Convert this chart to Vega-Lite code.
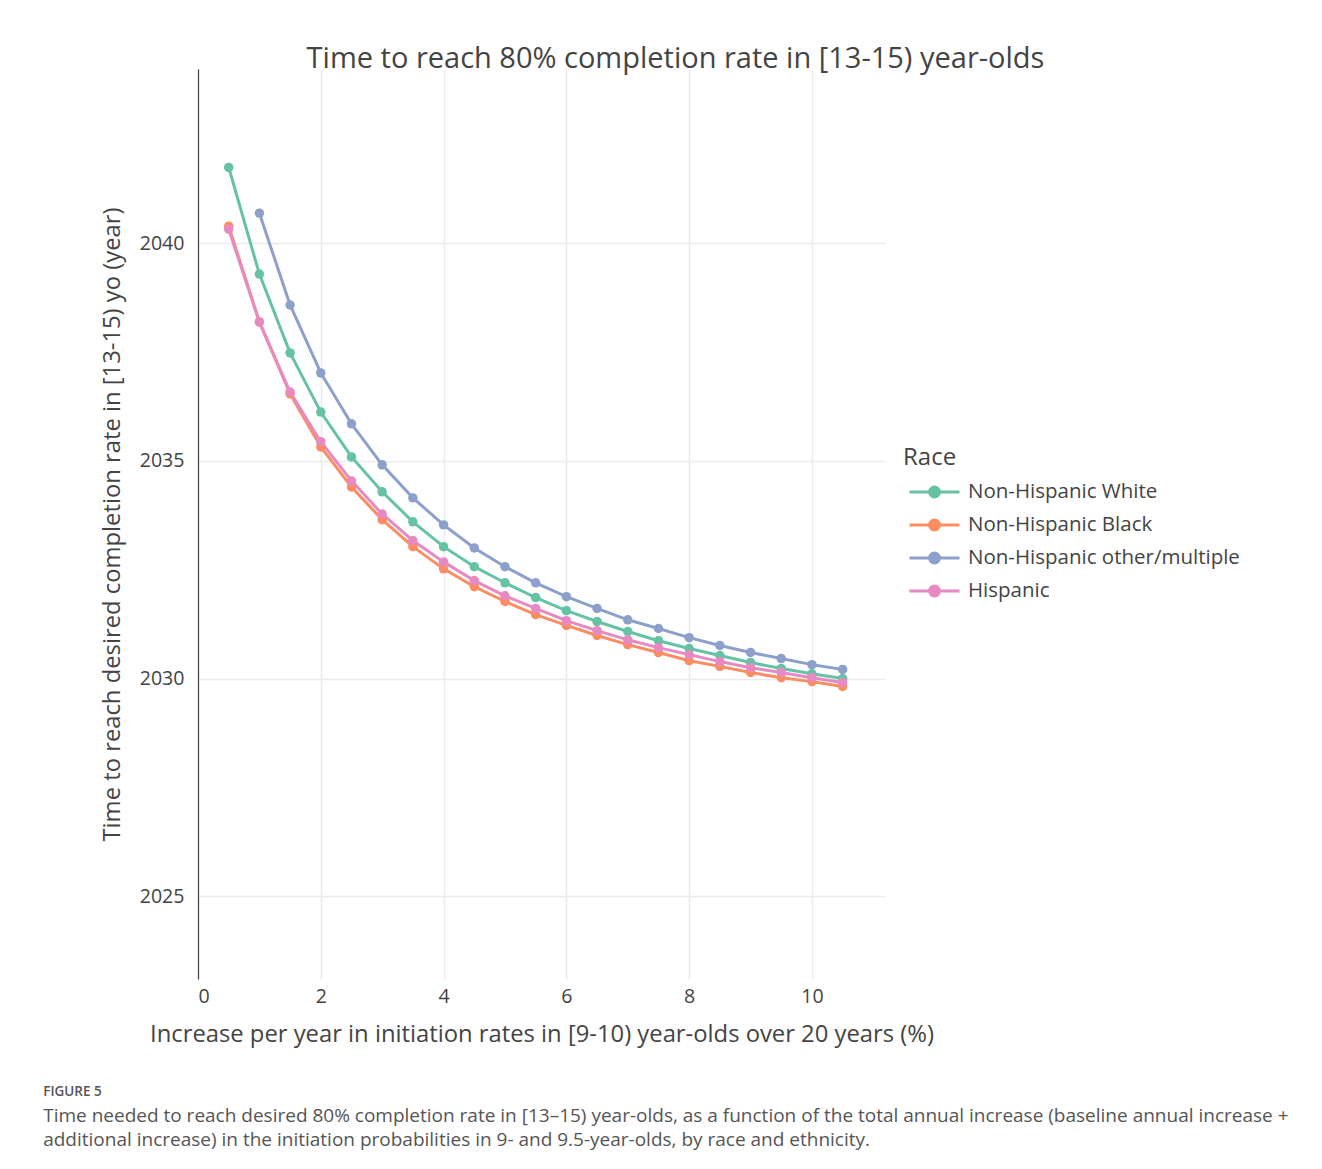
{
  "$schema": "https://vega.github.io/schema/vega-lite/v6.json",
  "background": "white",
  "padding": {"left": 43, "top": 45, "right": 10, "bottom": 10},
  "config": {
    "font": "Open Sans",
    "view": {"stroke": null},
    "axis": {"labelColor": "#444", "titleColor": "#444", "labelFont": "Open Sans", "titleFont": "Open Sans", "titleFontWeight": "normal"},
    "legend": {"labelFont": "Open Sans", "titleFont": "Open Sans"}
  },
  "title": {
    "text": "FIGURE 5",
    "subtitle": ["Time needed to reach desired 80% completion rate in [13–15) year-olds, as a function of the total annual increase (baseline annual increase +", "additional increase) in the initiation probabilities in 9- and 9.5-year-olds, by race and ethnicity."],
    "orient": "bottom",
    "anchor": "start",
    "frame": "bounds",
    "dx": -57,
    "fontSize": 13.5,
    "fontWeight": 600,
    "color": "#555",
    "subtitleFontSize": 19,
    "subtitleColor": "#555",
    "subtitleLineHeight": 24,
    "subtitlePadding": 8,
    "offset": 39,
    "font": "Open Sans",
    "subtitleFont": "Open Sans"
  },
  "datasets": {
    "pts": [
      {"x": 0.5, "race": "Non-Hispanic White", "y": 2041.74},
      {"x": 1.0, "race": "Non-Hispanic White", "y": 2039.29},
      {"x": 1.5, "race": "Non-Hispanic White", "y": 2037.48},
      {"x": 2.0, "race": "Non-Hispanic White", "y": 2036.12},
      {"x": 2.5, "race": "Non-Hispanic White", "y": 2035.09},
      {"x": 3.0, "race": "Non-Hispanic White", "y": 2034.29},
      {"x": 3.5, "race": "Non-Hispanic White", "y": 2033.60},
      {"x": 4.0, "race": "Non-Hispanic White", "y": 2033.03},
      {"x": 4.5, "race": "Non-Hispanic White", "y": 2032.57},
      {"x": 5.0, "race": "Non-Hispanic White", "y": 2032.20},
      {"x": 5.5, "race": "Non-Hispanic White", "y": 2031.86},
      {"x": 6.0, "race": "Non-Hispanic White", "y": 2031.56},
      {"x": 6.5, "race": "Non-Hispanic White", "y": 2031.31},
      {"x": 7.0, "race": "Non-Hispanic White", "y": 2031.08},
      {"x": 7.5, "race": "Non-Hispanic White", "y": 2030.87},
      {"x": 8.0, "race": "Non-Hispanic White", "y": 2030.69},
      {"x": 8.5, "race": "Non-Hispanic White", "y": 2030.53},
      {"x": 9.0, "race": "Non-Hispanic White", "y": 2030.37},
      {"x": 9.5, "race": "Non-Hispanic White", "y": 2030.23},
      {"x": 10.0, "race": "Non-Hispanic White", "y": 2030.11},
      {"x": 10.5, "race": "Non-Hispanic White", "y": 2030.00},
      {"x": 0.5, "race": "Non-Hispanic Black", "y": 2040.39},
      {"x": 1.0, "race": "Non-Hispanic Black", "y": 2038.19},
      {"x": 1.5, "race": "Non-Hispanic Black", "y": 2036.54},
      {"x": 2.0, "race": "Non-Hispanic Black", "y": 2035.32},
      {"x": 2.5, "race": "Non-Hispanic Black", "y": 2034.40},
      {"x": 3.0, "race": "Non-Hispanic Black", "y": 2033.65},
      {"x": 3.5, "race": "Non-Hispanic Black", "y": 2033.03},
      {"x": 4.0, "race": "Non-Hispanic Black", "y": 2032.52},
      {"x": 4.5, "race": "Non-Hispanic Black", "y": 2032.11},
      {"x": 5.0, "race": "Non-Hispanic Black", "y": 2031.77},
      {"x": 5.5, "race": "Non-Hispanic Black", "y": 2031.47},
      {"x": 6.0, "race": "Non-Hispanic Black", "y": 2031.22},
      {"x": 6.5, "race": "Non-Hispanic Black", "y": 2030.99},
      {"x": 7.0, "race": "Non-Hispanic Black", "y": 2030.78},
      {"x": 7.5, "race": "Non-Hispanic Black", "y": 2030.60},
      {"x": 8.0, "race": "Non-Hispanic Black", "y": 2030.41},
      {"x": 8.5, "race": "Non-Hispanic Black", "y": 2030.28},
      {"x": 9.0, "race": "Non-Hispanic Black", "y": 2030.14},
      {"x": 9.5, "race": "Non-Hispanic Black", "y": 2030.02},
      {"x": 10.0, "race": "Non-Hispanic Black", "y": 2029.93},
      {"x": 10.5, "race": "Non-Hispanic Black", "y": 2029.82},
      {"x": 1.0, "race": "Non-Hispanic other/multiple", "y": 2040.69},
      {"x": 1.5, "race": "Non-Hispanic other/multiple", "y": 2038.58},
      {"x": 2.0, "race": "Non-Hispanic other/multiple", "y": 2037.02},
      {"x": 2.5, "race": "Non-Hispanic other/multiple", "y": 2035.85},
      {"x": 3.0, "race": "Non-Hispanic other/multiple", "y": 2034.91},
      {"x": 3.5, "race": "Non-Hispanic other/multiple", "y": 2034.15},
      {"x": 4.0, "race": "Non-Hispanic other/multiple", "y": 2033.53},
      {"x": 4.5, "race": "Non-Hispanic other/multiple", "y": 2033.00},
      {"x": 5.0, "race": "Non-Hispanic other/multiple", "y": 2032.57},
      {"x": 5.5, "race": "Non-Hispanic other/multiple", "y": 2032.20},
      {"x": 6.0, "race": "Non-Hispanic other/multiple", "y": 2031.88},
      {"x": 6.5, "race": "Non-Hispanic other/multiple", "y": 2031.61},
      {"x": 7.0, "race": "Non-Hispanic other/multiple", "y": 2031.35},
      {"x": 7.5, "race": "Non-Hispanic other/multiple", "y": 2031.15},
      {"x": 8.0, "race": "Non-Hispanic other/multiple", "y": 2030.94},
      {"x": 8.5, "race": "Non-Hispanic other/multiple", "y": 2030.76},
      {"x": 9.0, "race": "Non-Hispanic other/multiple", "y": 2030.60},
      {"x": 9.5, "race": "Non-Hispanic other/multiple", "y": 2030.46},
      {"x": 10.0, "race": "Non-Hispanic other/multiple", "y": 2030.32},
      {"x": 10.5, "race": "Non-Hispanic other/multiple", "y": 2030.21},
      {"x": 0.5, "race": "Hispanic", "y": 2040.32},
      {"x": 1.0, "race": "Hispanic", "y": 2038.19},
      {"x": 1.5, "race": "Hispanic", "y": 2036.58},
      {"x": 2.0, "race": "Hispanic", "y": 2035.44},
      {"x": 2.5, "race": "Hispanic", "y": 2034.54},
      {"x": 3.0, "race": "Hispanic", "y": 2033.78},
      {"x": 3.5, "race": "Hispanic", "y": 2033.17},
      {"x": 4.0, "race": "Hispanic", "y": 2032.68},
      {"x": 4.5, "race": "Hispanic", "y": 2032.25},
      {"x": 5.0, "race": "Hispanic", "y": 2031.90},
      {"x": 5.5, "race": "Hispanic", "y": 2031.61},
      {"x": 6.0, "race": "Hispanic", "y": 2031.33},
      {"x": 6.5, "race": "Hispanic", "y": 2031.10},
      {"x": 7.0, "race": "Hispanic", "y": 2030.89},
      {"x": 7.5, "race": "Hispanic", "y": 2030.71},
      {"x": 8.0, "race": "Hispanic", "y": 2030.55},
      {"x": 8.5, "race": "Hispanic", "y": 2030.39},
      {"x": 9.0, "race": "Hispanic", "y": 2030.25},
      {"x": 9.5, "race": "Hispanic", "y": 2030.14},
      {"x": 10.0, "race": "Hispanic", "y": 2030.02},
      {"x": 10.5, "race": "Hispanic", "y": 2029.91}
    ]
  },
  "vconcat": [
    {
      "width": 687,
      "height": 910,
      "title": {
        "text": "Time to reach 80% completion rate in [13-15) year-olds",
        "fontSize": 29,
        "fontWeight": "normal",
        "color": "#444",
        "anchor": "middle",
        "dx": 134,
        "offset": -5,
        "font": "Open Sans"
      },
      "data": {"name": "pts"},
      "encoding": {
        "x": {
          "field": "x", "type": "quantitative",
          "scale": {"domain": [0, 11.19], "nice": false, "zero": false},
          "axis": {
            "values": [0, 2, 4, 6, 8, 10],
            "title": "Increase per year in initiation rates in [9-10) year-olds over 20 years (%)",
            "titleFontSize": 23.8,
            "labelFontSize": 19.6,
            "labelPadding": 8,
            "titlePadding": 17,
            "domain": false,
            "ticks": false,
            "grid": true,
            "gridColor": "#ebebeb",
            "gridWidth": 1.5
          }
        },
        "y": {
          "field": "y", "type": "quantitative",
          "scale": {"domain": [2023.1, 2044], "nice": false, "zero": false},
          "axis": {
            "values": [2025, 2030, 2035, 2040],
            "format": "d",
            "title": "Time to reach desired completion rate in [13-15) yo (year)",
            "titleFontSize": 23.8,
            "labelFontSize": 19.6,
            "labelPadding": 14,
            "titlePadding": 15,
            "domain": true,
            "domainColor": "#444",
            "domainWidth": 1.2,
            "ticks": false,
            "grid": true,
            "gridColor": "#ebebeb",
            "gridWidth": 1.5
          }
        },
        "color": {
          "field": "race", "type": "nominal",
          "sort": ["Non-Hispanic White", "Non-Hispanic Black", "Non-Hispanic other/multiple", "Hispanic"],
          "scale": {
            "domain": ["Non-Hispanic White", "Non-Hispanic Black", "Non-Hispanic other/multiple", "Hispanic"],
            "range": ["#66c2a5", "#fc8d62", "#8da0cb", "#e78ac3"]
          },
          "legend": {
            "title": "Race",
            "orient": "none",
            "legendX": 705,
            "legendY": 377,
            "titleFontSize": 24,
            "titleFontWeight": "normal",
            "titleColor": "#444",
            "titlePadding": 8,
            "labelFontSize": 20.5,
            "labelColor": "#444",
            "labelLimit": 0,
            "labelOffset": 19.5,
            "symbolOffset": 17.5,
            "rowPadding": 8,
            "symbolType": "M-2,0L2,0M-0.4,0A0.4,0.4 0 1,0 0.4,0A0.4,0.4 0 1,0 -0.4,0Z",
            "symbolSize": 625,
            "symbolStrokeWidth": 3,
            "encode": {
              "symbols": {
                "update": {
                  "fill": {"scale": "color", "field": "value"},
                  "stroke": {"scale": "color", "field": "value"},
                  "opacity": {"value": 1}
                }
              }
            }
          }
        }
      },
      "layer": [
        {"mark": {"type": "line", "strokeWidth": 3}},
        {"mark": {"type": "point", "filled": true, "size": 90, "opacity": 1}}
      ]
    }
  ]
}
